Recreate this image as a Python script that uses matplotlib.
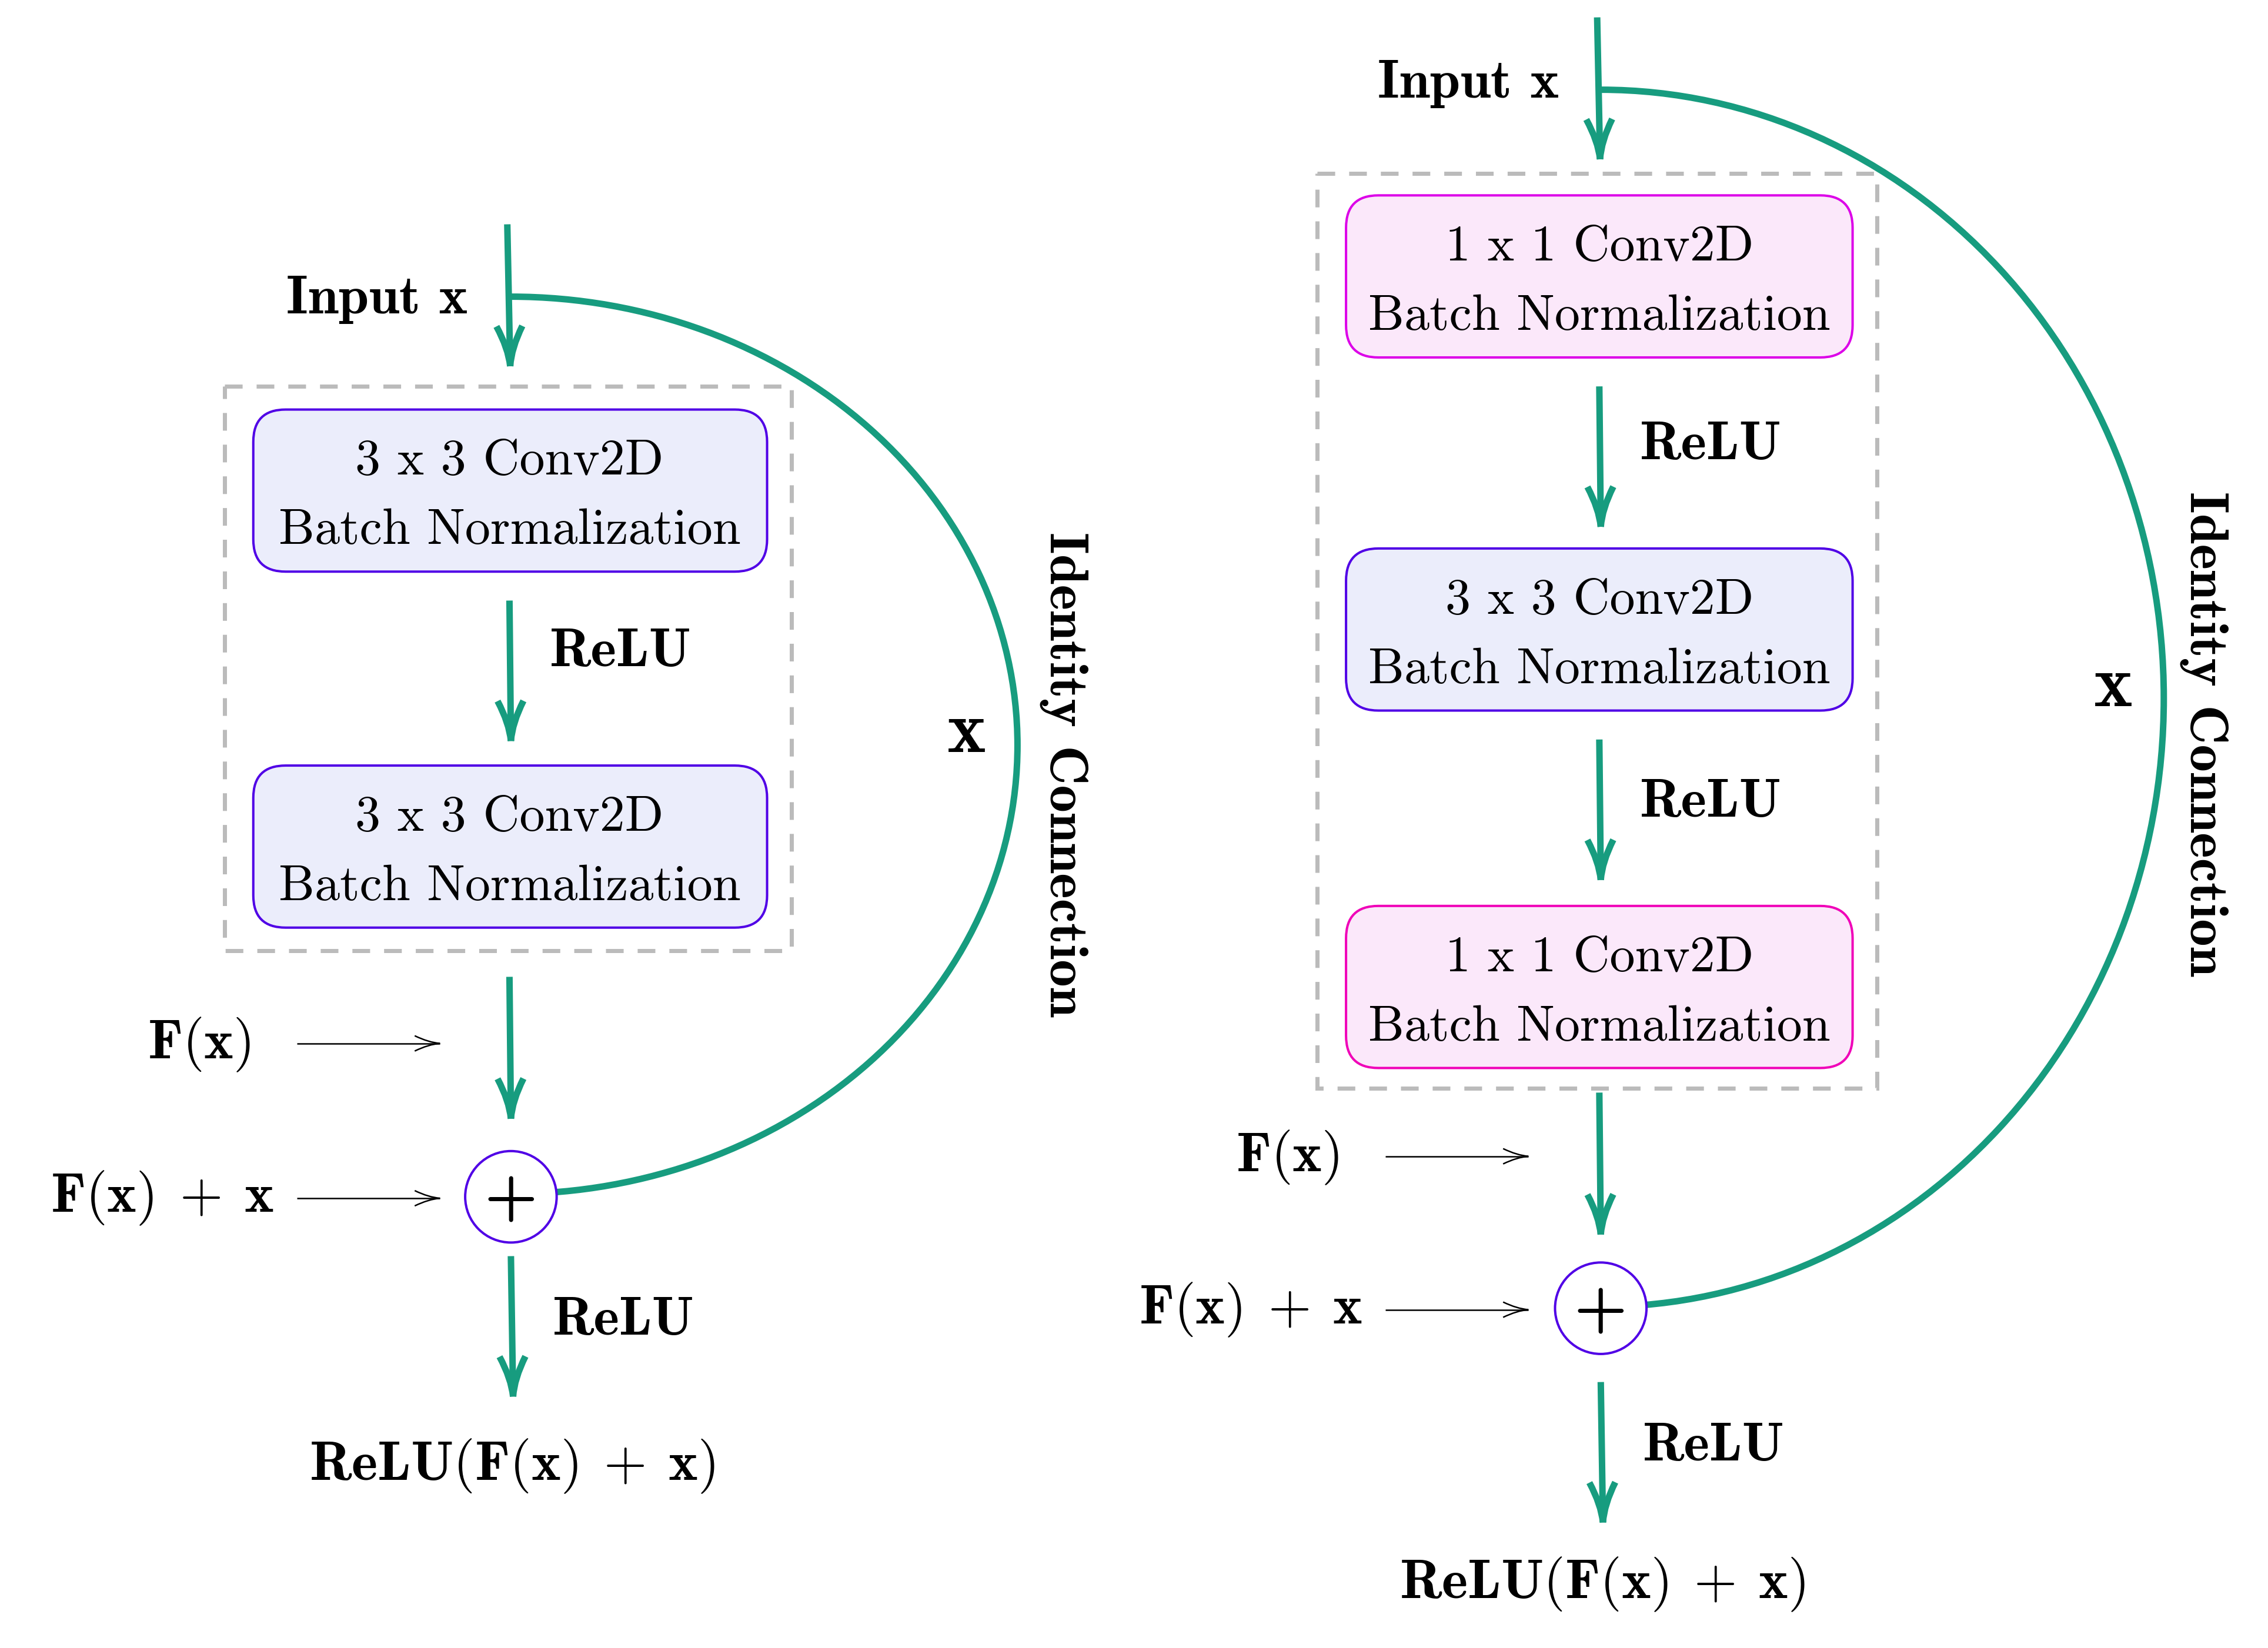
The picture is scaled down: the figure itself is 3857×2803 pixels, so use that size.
import numpy as np
import matplotlib
matplotlib.use("Agg")
import matplotlib.pyplot as plt
from matplotlib.patches import FancyBboxPatch, Rectangle, Circle, Arc, PathPatch
from matplotlib.path import Path

plt.rcParams['mathtext.fontset'] = 'cm'

# ---- labels (the "data" of this diagram) ----
block_line2 = "Batch Normalization"
left_blocks = ["3 x 3 Conv2D", "3 x 3 Conv2D"]
left_kinds = ["blue", "blue"]
right_blocks = ["1 x 1 Conv2D", "3 x 3 Conv2D", "1 x 1 Conv2D"]
right_kinds = ["pink_top", "blue", "pink_bot"]
input_label = "Input x"
act_label = "ReLU"
fx_label = r"$\mathbf{F}(\mathbf{x})$"
sum_label = r"$\mathbf{F}(\mathbf{x})\:\:+\:\:\mathbf{x}$"
out_label = r"$\mathbf{ReLU}(\mathbf{F}(\mathbf{x})\:\:+\:\:\mathbf{x})$"
skip_label = "x"
skip_title = "Identity Connection"

# ---- style ----
TEAL = "#179c7f"
VIOLET = "#5000e6"
GRAY = "#bbbbbb"
FILLS = {"blue": "#ebedfb", "pink_top": "#fbe8fa", "pink_bot": "#fbe8fa"}
EDGES = {"blue": "#5000e6", "pink_top": "#dc00e8", "pink_bot": "#f000b8"}
BOLD_SIZE = 67
MATH_SIZE = 68

W, H = 3857, 2803
S = W / 1567.0          # layout below is in reference units


def pt(px):
    return px * 72.0 / 100.0


def u(v):
    return v * S


fig = plt.figure(figsize=(W / 100, H / 100), dpi=100)
ax = fig.add_axes([0, 0, 1, 1])
ax.set_xlim(0, W)
ax.set_ylim(H, 0)
ax.axis("off")


def arrow(x0, y0, x1, y1, color=TEAL, lw=11, L=68, w=22, z=2):
    x0, y0, x1, y1 = u(x0), u(y0), u(x1), u(y1)
    ax.plot([x0, x1], [y0, y1], color=color, lw=pt(lw), solid_capstyle="butt", zorder=z)
    d = np.array([x1 - x0, y1 - y0])
    d = d / np.hypot(*d)
    n = np.array([-d[1], d[0]])
    T = np.array([x1, y1])
    for s in (-1, 1):
        p0 = T - L * d + s * w * n
        c = T - 0.45 * L * d + s * 0.12 * w * n
        path = Path([p0, c, T], [Path.MOVETO, Path.CURVE3, Path.CURVE3])
        ax.add_patch(PathPatch(path, fc="none", ec=color, lw=pt(lw), capstyle="butt", zorder=z))


def bold(x, y, s, size=BOLD_SIZE, **kw):
    ax.text(u(x), u(y), s, fontfamily="cmb10", fontsize=size, **kw)


def block(cx, top, kind, line1, x0, x1):
    h = 112
    ax.add_patch(FancyBboxPatch((u(x0), u(top)), u(x1 - x0), u(h),
                                boxstyle="round,pad=0,rounding_size=55",
                                fc=FILLS[kind], ec=EDGES[kind], lw=pt(4), zorder=2))
    ax.text(u(cx), u(top + 45), line1, fontfamily="cmr10", fontsize=62,
            ha="center", va="baseline", zorder=3)
    ax.text(u(cx), u(top + 93), block_line2, fontfamily="cmr10", fontsize=62,
            ha="center", va="baseline", zorder=3)


def diagram(cx, in_top, in_y, dash, tops, kinds, names, relu_ys, fx_y, sum_y,
            out_y, ell, xlab, idlab, out_arrow, fx_arrow, label_x, thin_x):
    # input arrow + label
    arrow(cx - 1.5, in_top, cx + 0.5, in_top + 98)
    bold(label_x, in_y, input_label, ha="right", va="center")
    # dashed frame
    bx0, by0, bx1, by1 = dash
    ax.add_patch(Rectangle((u(bx0), u(by0)), u(bx1 - bx0), u(by1 - by0), fc="none",
                           ec=GRAY, lw=pt(7), linestyle=(0, (4.3, 3.4)), zorder=1))
    for top, kind, name in zip(tops, kinds, names):
        block(cx, top, kind, name, bx0 + 20, bx1 - 17)
    # ReLU arrows between blocks
    for i, ry in enumerate(relu_ys):
        a0 = tops[i] + 112 + 20
        arrow(cx, a0, cx + 1, a0 + 97)
        bold(cx + 28, ry, act_label, ha="left", va="center")
    # F(x) arrow into adder
    arrow(cx, fx_arrow, cx + 1, fx_arrow + 98)
    ax.text(u(thin_x - 32), u(fx_y), fx_label, fontsize=MATH_SIZE, ha="right", va="center")
    ax.text(u(thin_x - 16), u(sum_y), sum_label, fontsize=MATH_SIZE, ha="right", va="center")
    arrow(thin_x, fx_y - 1, thin_x + 99, fx_y - 1, color="black", lw=2.5, L=43, w=13)
    arrow(thin_x, sum_y, thin_x + 99, sum_y, color="black", lw=2.5, L=43, w=13)
    # adder
    ax.add_patch(Circle((u(cx + 1), u(sum_y - 1)), u(31.6), fc="white", ec=VIOLET,
                        lw=pt(4), zorder=4))
    ax.text(u(cx + 1), u(sum_y + 1), "+", fontfamily="cmb10", fontsize=84,
            ha="center", va="center", zorder=5)
    # output
    arrow(cx + 1, out_arrow, cx + 2.5, out_arrow + 97)
    bold(cx + 30, out_arrow + 45, act_label, ha="left", va="center")
    ax.text(u(cx + 2), u(out_y), out_label, fontsize=MATH_SIZE, ha="center", va="center")
    # identity connection
    ecx, ecy, rx, ry = ell
    ax.add_patch(Arc((u(ecx), u(ecy)), u(2 * rx), u(2 * ry), theta1=-90, theta2=90,
                     ec=TEAL, lw=pt(11), zorder=1.5))
    bold(xlab[0], xlab[1], skip_label, size=90, ha="center", va="center")
    bold(idlab[0], idlab[1], skip_title, rotation=-90, ha="center", va="center")


diagram(352, 155, 207, (155, 267, 547, 657), [283, 529], left_kinds, left_blocks,
        [451], 722, 828, 1013, (353, 515, 350, 310), (668, 507), (735, 535),
        868, 675, 323, 205)

diagram(1105, 12, 58, (910, 120, 1297, 752), [135, 379, 626], right_kinds, right_blocks,
        [308, 555], 800, 905, 1095, (1106, 482.5, 389, 420.5), (1460, 475), (1523, 507),
        955, 755, 1077, 957)

fig.savefig("out.png", dpi=100, facecolor="white")
